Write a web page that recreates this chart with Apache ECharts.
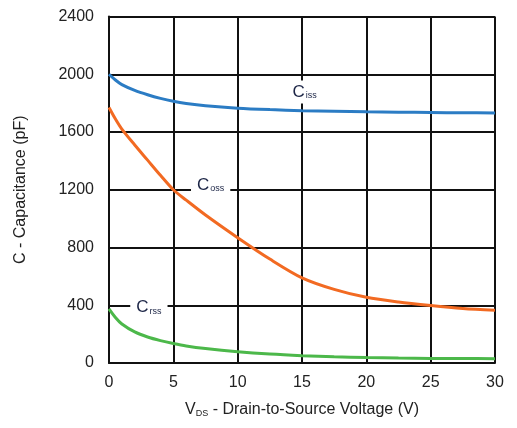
<!DOCTYPE html>
<html><head><meta charset="utf-8">
<script src="https://cdn.jsdelivr.net/npm/echarts@6/dist/echarts.min.js"></script>
<style>html,body{margin:0;padding:0;background:#fff}#c{width:517px;height:428px}</style>
</head><body><div id="c"></div>
<script>
var vds  = [0, 0.5, 1, 2, 3, 4, 5, 6, 7.5, 10, 12.5, 15, 17.5, 20, 22.5, 25, 27.5, 30];
var ciss = [2000, 1960, 1928, 1888, 1858, 1833, 1813, 1798, 1782, 1765, 1755, 1748, 1744, 1740, 1737, 1735, 1733, 1732];
var coss = [1770, 1690, 1620, 1510, 1405, 1300, 1200, 1128, 1025, 868, 720, 590, 510, 455, 422, 398, 378, 365];
var crss = [375, 315, 270, 215, 180, 155, 135, 118, 100, 78, 62, 51, 43, 38, 34, 32, 31, 30];
var xTicks = [0, 5, 10, 15, 20, 25, 30];
var yTicks = [0, 400, 800, 1200, 1600, 2000, 2400];
var seriesNames = ['Ciss', 'Coss', 'Crss'];
var labelSubs = ['iss', 'oss', 'rss'];
var labelAnchors = [[15.2, 1877], [7.9, 1233], [3.1, 385]];

function pairs(ys){ return vds.map(function(x,i){ return [x, ys[i]]; }); }
var colors = ['#2b7cc4', '#f26a22', '#4cb84a'];
var values = [ciss, coss, crss];

var series = values.map(function(v, i){
  return { name: seriesNames[i], type: 'line', data: pairs(v), smooth: 0.3,
    showSymbol: false, lineStyle: { color: colors[i], width: 3 }, z: 3 };
});
series.push({
  type: 'scatter', symbol: 'circle', symbolSize: 0, z: 5, silent: true,
  itemStyle: { color: '#1c2546', opacity: 1 },
  data: labelAnchors.map(function(p, i){ return [p[0], p[1], labelSubs[i]]; }),
  label: { show: true, position: 'inside', textBorderWidth: 0, opacity: 1,
    formatter: function(p){ return '{c|C}{s|' + p.value[2] + '}'; },
    backgroundColor: '#fff', padding: [3, 6, 3, 6],
    rich: { c: { fontSize: 17, color: '#1c2546', textBorderWidth: 0, fontFamily: 'Liberation Sans' },
            s: { fontSize: 9, color: '#1c2546', textBorderWidth: 0, fontFamily: 'Liberation Sans', padding: [8, 0, 0, 1] } } }
});

var chart = echarts.init(document.getElementById('c'));
chart.setOption({
  animation: false,
  grid: { left: 109, top: 16.5, right: 22, bottom: 65, show: false },
  xAxis: { type: 'value', min: xTicks[0], max: xTicks[xTicks.length-1], interval: 5,
    name: '{v|V}{d|DS}{t| - Drain-to-Source Voltage (V)}', nameLocation: 'middle', nameGap: 38,
    nameTextStyle: { rich: {
      v: { fontSize: 16, color: '#222', fontFamily: 'Liberation Sans' },
      d: { fontSize: 9, color: '#222', fontFamily: 'Liberation Sans', padding: [8, 0, 0, 0] },
      t: { fontSize: 16, color: '#222', fontFamily: 'Liberation Sans' } } },
    axisLine: { lineStyle: { color: '#111', width: 2 } },
    axisTick: { show: false },
    axisLabel: { fontSize: 16, color: '#222', fontFamily: 'Liberation Sans', margin: 12 },
    splitLine: { show: true, lineStyle: { color: '#111', width: 2 } } },
  yAxis: { type: 'value', min: yTicks[0], max: yTicks[yTicks.length-1], interval: 400,
    name: 'C - Capacitance (pF)', nameLocation: 'middle', nameGap: 80,
    nameTextStyle: { fontSize: 16, color: '#222', fontFamily: 'Liberation Sans' },
    axisLine: { show: true, lineStyle: { color: '#111', width: 2 } },
    axisTick: { show: false },
    axisLabel: { fontSize: 16, color: '#222', fontFamily: 'Liberation Sans', margin: 15,
      formatter: function(v){ return String(v); } },
    splitLine: { show: true, lineStyle: { color: '#111', width: 2 } } },
  series: series
});
</script></body></html>
